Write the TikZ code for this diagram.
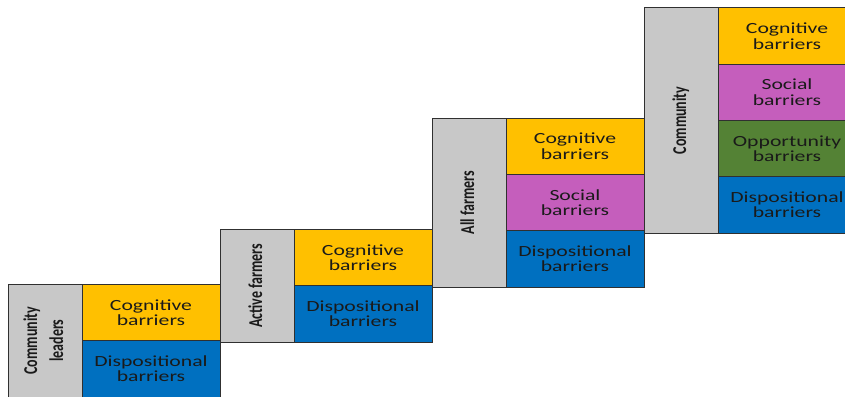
\documentclass[tikz,border=0pt]{standalone}
\usepackage{fontspec}
\usepackage{tikz}
\usetikzlibrary{positioning}
\newfontfamily\cellfont{Carlito}[FakeStretch=1.4]
\newfontfamily\tagfont{Carlito}
\definecolor{cog}{HTML}{FFC000}
\definecolor{soc}{HTML}{C55EBC}
\definecolor{opp}{HTML}{548235}
\definecolor{dis}{HTML}{0070C0}
\definecolor{grp}{HTML}{C8C8C8}
\definecolor{edge}{HTML}{303030}
\definecolor{ink}{HTML}{1A1A1A}
\newcommand{\tagtext}[1]{\scalebox{1}[1.4]{\begin{tabular}{@{}c@{}}#1\end{tabular}}}

\begin{document}
\begin{tikzpicture}[
  x=1pt, y=-1pt,
  every node/.style={outer sep=0pt, inner sep=0pt},
  who/.style  = {draw=edge, line width=0.8pt, fill=grp, minimum width=74pt, minimum height=#1*56.3pt, anchor=south west},
  bar/.style  = {draw=edge, line width=0.8pt, fill=#1, minimum width=138pt, minimum height=56.3pt,
                 align=center, text=ink, font=\cellfont\fontsize{15.5}{15.5}\selectfont},
  tag/.style  = {rotate=90, text=ink, font=\tagfont\bfseries\fontsize{14}{18.5}\selectfont},
]
  \useasboundingbox (0,0) rectangle (845,396);
  \clip (0,0) rectangle (845,396);
  % step 1: community leaders
  \node[who=2] (g1) at (8,397) {};
  \node[bar=cog, below right=0pt and 0pt of g1.north east] (c1) {Cognitive\\barriers};
  \node[bar=dis, below=0pt of c1] (d1) {Dispositional\\barriers};
  \node[tag] (t1) at (g1.center) {\tagtext{Community\\leaders}};
  % step 2: active farmers
  \node[who=2] (g2) at (220,342) {};
  \node[bar=cog, below right=0pt and 0pt of g2.north east] (c2) {Cognitive\\barriers};
  \node[bar=dis, below=0pt of c2] (d2) {Dispositional\\barriers};
  \node[tag] (t2) at (g2.center) {\tagtext{Active farmers}};
  % step 3: all farmers
  \node[who=3] (g3) at (432,287) {};
  \node[bar=cog, below right=0pt and 0pt of g3.north east] (c3) {Cognitive\\barriers};
  \node[bar=soc, below=0pt of c3] (s3) {Social\\barriers};
  \node[bar=dis, below=0pt of s3] (d3) {Dispositional\\barriers};
  \node[tag] (t3) at (g3.center) {\tagtext{All farmers}};
  % step 4: community
  \node[who=4] (g4) at (644,233) {};
  \node[bar=cog, below right=0pt and 0pt of g4.north east] (c4) {Cognitive\\barriers};
  \node[bar=soc, below=0pt of c4] (s4) {Social\\barriers};
  \node[bar=opp, below=0pt of s4] (o4) {Opportunity\\barriers};
  \node[bar=dis, below=0pt of o4] (d4) {Dispositional\\barriers};
  \node[tag] (t4) at (g4.center) {\tagtext{Community}};
\end{tikzpicture}
\end{document}
